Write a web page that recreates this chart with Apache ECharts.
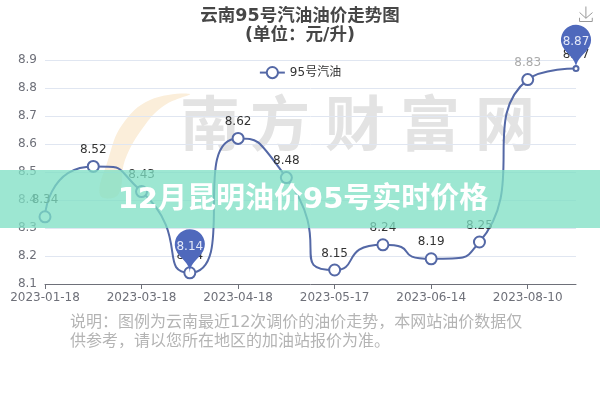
<!DOCTYPE html>
<html><head><meta charset="utf-8">
<style>html,body{margin:0;padding:0;background:#fff}#c{width:600px;height:400px}</style>
<script src="https://cdn.jsdelivr.net/npm/echarts@6/dist/echarts.min.js"></script></head>
<body><div id="c"></div>
<script>
const categories=['2023-01-18','2023-02-17','2023-03-18','2023-04-04','2023-04-18','2023-05-04','2023-05-17','2023-05-31','2023-06-14','2023-06-28','2023-08-10','2023-08-24'];
const prices=[8.34,8.52,8.43,8.14,8.62,8.48,8.15,8.24,8.19,8.25,8.83,8.87];
const titleText='云南95号汽油油价走势图\n(单位：元/升)';
const seriesName='95号汽油';
const noteText='说明：图例为云南最近12次调价的油价走势，本网站油价数据仅\n供参考，请以您所在地区的加油站报价为准。';
const bannerText='12月昆明油价95号实时价格';
const markChars=['南','方','财','富','网'];
const markLeft=[180,250,325,400,475];
const cjk='"DejaVu Sans","Noto Sans CJK SC",sans-serif';
const chart=echarts.init(document.getElementById('c'));
chart.setOption({
 animation:false,
 textStyle:{fontFamily:cjk},
 title:{text:titleText,left:'center',top:2,itemGap:0,textStyle:{fontSize:17.5,fontWeight:'bold',color:'#464646',lineHeight:19}},
 legend:{data:[seriesName],top:61,left:'center',itemWidth:25,itemHeight:14,textStyle:{fontSize:12,color:'#333'}},
 toolbox:{right:-10,top:-11,itemSize:15,feature:{saveAsImage:{title:''}},iconStyle:{borderColor:'#999'}},
 grid:{left:45,right:24,top:60,bottom:116},
 xAxis:{type:'category',boundaryGap:false,data:categories,
  axisLine:{lineStyle:{color:'#6e7079'}},axisTick:{alignWithLabel:true,interval:1,length:5},
  axisLabel:{interval:1,fontSize:12,color:'#6e7079',margin:8,hideOverlap:false},splitLine:{show:false}},
 yAxis:{type:'value',min:8.1,max:8.9,interval:0.1,
  axisLine:{show:false},axisTick:{show:false},
  axisLabel:{fontSize:12,color:'#6e7079',margin:8,formatter:v=>v.toFixed(1)},
  splitLine:{lineStyle:{color:'#e0e6f1'}}},
 series:[{name:seriesName,type:'line',smooth:0.85,
  data:prices.map((v,i)=>i===prices.length-1?{value:v,symbolSize:5}:i===10?{value:v,label:{color:'#aaa'}}:v),
  symbol:'circle',symbolSize:11,showAllSymbol:true,
  lineStyle:{color:'#5468a6',width:2},
  itemStyle:{color:'#fff',borderColor:'#5468a6',borderWidth:2},
  label:{show:true,position:'top',fontSize:12,color:'#333',distance:4},
  markPoint:{symbol:'pin',symbolSize:50,
   itemStyle:{color:'#4f69bc'},
   label:{color:'#e4e9f8',fontSize:12},
   data:[{type:'max'},{type:'min'}]}
 }],
 graphic:[
  {type:'polygon',z:-10,silent:true,shape:{smooth:0.4,points:[[190,94],[150,100],[122,125],[108,160],[100,195],[118,195],[125,160],[145,125],[165,105]]},style:{fill:'#fbeeda'}},
  ...markChars.map((ch,i)=>({type:'text',z:-10,left:markLeft[i],top:93,silent:true,
   style:{text:ch,font:'bold 60px "Noto Sans CJK SC",sans-serif',fill:'#e3e3e3'}})),
  {type:'text',z:5,left:70,top:313,silent:true,
   style:{text:noteText,font:'16px '+cjk,fill:'#b4b4b4',lineHeight:19}},
  {type:'rect',z:100,silent:true,shape:{x:0,y:170,width:600,height:58},style:{fill:'rgba(126,223,196,0.76)'}},
  {type:'text',z:101,silent:true,x:303,y:200,
   style:{text:bannerText,font:'bold 29px "DejaVu Sans","Noto Sans CJK SC",sans-serif',fill:'#fff',align:'center',verticalAlign:'middle'}}
 ]
});
</script></body></html>
